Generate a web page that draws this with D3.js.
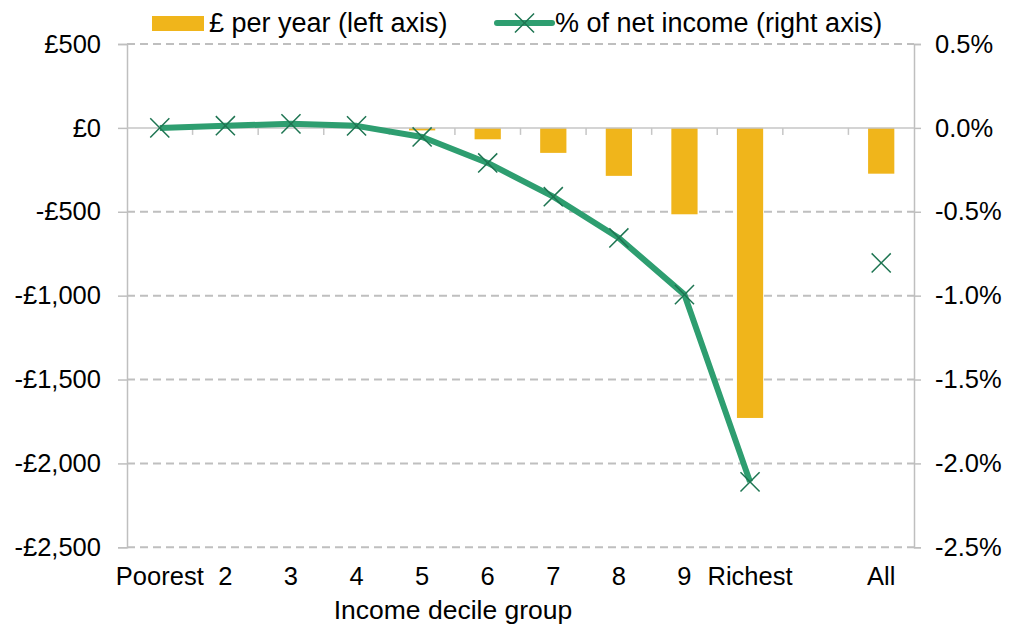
<!DOCTYPE html>
<html>
<head>
<meta charset="utf-8">
<script src="https://cdn.jsdelivr.net/npm/d3@7"></script>
<style>
  html, body { margin: 0; padding: 0; background: #ffffff; }
  svg { display: block; font-family: "Liberation Sans", Arial, sans-serif; }
</style>
</head>
<body>
<svg id="chart" width="1009" height="627"></svg>
<script>
// Income decile groups (blank slot separates the deciles from "All")
const categories = ["Poorest", "2", "3", "4", "5", "6", "7", "8", "9", "Richest", "", "All"];
// Change in £ per year (left axis)
const poundsPerYear = [0, 0, 0, 0, -15, -68, -149, -286, -515, -1729, null, -273];
// Change as % of net income (right axis)
const pctNetIncome = [0.0, 0.013, 0.024, 0.012, -0.054, -0.209, -0.41, -0.656, -0.994, -2.11, null, -0.805];
// Axis ticks
const leftTicks = [500, 0, -500, -1000, -1500, -2000, -2500];
const rightTicks = [0.5, 0.0, -0.5, -1.0, -1.5, -2.0, -2.5];
const legendLabels = ["£ per year (left axis)", "% of net income (right axis)"];
const xTitle = "Income decile group";

const BAR = "#F0B51B", LINE = "#2E9E70", MARK = "#1E7552", GRID = "#BFBFBF", TEXT = "#000000";
const FS = 25.5;
const FS_LEGEND = 27;

const svg = d3.select("#chart");
const plot = { left: 127, right: 914, top: 44, bottom: 547.3 };

const x = d3.scaleBand().domain(categories).range([plot.left, plot.right]).padding(0);
const yL = d3.scaleLinear().domain([-2500, 500]).range([plot.bottom, plot.top]);
const yR = d3.scaleLinear().domain([-2.5, 0.5]).range([plot.bottom, plot.top]);

const fmtPounds = v => (v < 0 ? "-£" : "£") + d3.format(",")(Math.abs(v));
const fmtPct = v => (v < 0 ? "-" : "") + d3.format(".1f")(Math.abs(v)) + "%";

// Dashed horizontal gridlines (zero line drawn solid below)
svg.append("g")
  .selectAll("line")
  .data(leftTicks.filter(v => v !== 0))
  .join("line")
  .attr("x1", plot.left).attr("x2", plot.right)
  .attr("y1", d => yL(d)).attr("y2", d => yL(d))
  .attr("stroke", GRID).attr("stroke-width", 2)
  .attr("stroke-dasharray", "8,5");

// Left axis
const gL = svg.append("g")
  .attr("transform", `translate(${plot.left},0)`)
  .call(d3.axisLeft(yL).tickValues(leftTicks).tickFormat(fmtPounds).tickSize(9).tickPadding(17));
// Right axis
const gR = svg.append("g")
  .attr("transform", `translate(${plot.right},0)`)
  .call(d3.axisRight(yR).tickValues(rightTicks).tickFormat(fmtPct).tickSize(7).tickPadding(14));

[gL, gR].forEach(g => {
  g.select(".domain").attr("stroke", GRID).attr("stroke-width", 1.5);
  g.selectAll(".tick line").attr("stroke", GRID).attr("stroke-width", 1.5);
  g.selectAll(".tick text").attr("fill", TEXT).style("font-size", FS + "px")
    .style("font-family", '"Liberation Sans", Arial, sans-serif');
});

// Bars
const bw = x.bandwidth();
svg.append("g")
  .selectAll("rect")
  .data(categories.map((c, i) => ({ c, v: poundsPerYear[i] })).filter(d => d.v !== null && d.v !== 0))
  .join("rect")
  .attr("x", d => x(d.c) + bw * 0.3)
  .attr("width", bw * 0.4)
  .attr("y", d => Math.min(yL(0), yL(d.v)))
  .attr("height", d => Math.abs(yL(d.v) - yL(0)))
  .attr("fill", BAR);

// Zero line (category axis) with tick marks between groups
const gX = svg.append("g").attr("transform", `translate(0,${yL(0)})`);
gX.append("line")
  .attr("x1", plot.left).attr("x2", plot.right)
  .attr("stroke", "#C6C6C6").attr("stroke-width", 1.5);
gX.selectAll("line.tk")
  .data(categories.slice(1))
  .join("line")
  .attr("class", "tk")
  .attr("x1", d => x(d)).attr("x2", d => x(d))
  .attr("y1", 0).attr("y2", 7)
  .attr("stroke", "#C6C6C6").attr("stroke-width", 1.5);

// Category labels
svg.append("g")
  .selectAll("text")
  .data(categories)
  .join("text")
  .attr("x", d => x(d) + bw / 2)
  .attr("y", 585)
  .attr("text-anchor", "middle")
  .attr("fill", TEXT)
  .style("font-size", FS + "px")
  .text(d => d);

// Axis title
svg.append("text")
  .attr("x", 453).attr("y", 619)
  .attr("text-anchor", "middle")
  .attr("fill", TEXT)
  .style("font-size", "26.5px")
  .text(xTitle);

// Percentage line across deciles
const pts = categories.map((c, i) => ({ c, v: pctNetIncome[i] })).filter(d => d.v !== null);
const decilePts = pts.filter(d => d.c !== "All");
svg.append("path")
  .datum(decilePts)
  .attr("fill", "none")
  .attr("stroke", LINE)
  .attr("stroke-width", 6)
  .attr("stroke-linejoin", "round")
  .attr("d", d3.line().x(d => x(d.c) + bw / 2).y(d => yR(d.v)));

// X markers
const cross = d3.symbol().type(d3.symbolX).size(240);
svg.append("g")
  .selectAll("path")
  .data(pts)
  .join("path")
  .attr("transform", d => `translate(${x(d.c) + bw / 2},${yR(d.v)})`)
  .attr("d", cross)
  .attr("fill", "none")
  .attr("stroke", MARK)
  .attr("stroke-width", 1.5);

// Legend
const lg = svg.append("g");
lg.append("rect").attr("x", 152).attr("y", 16).attr("width", 52).attr("height", 15).attr("fill", BAR);
lg.append("text").attr("x", 209).attr("y", 32).attr("fill", TEXT).style("font-size", FS_LEGEND + "px").text(legendLabels[0]);
lg.append("line").attr("x1", 497).attr("x2", 552).attr("y1", 23).attr("y2", 23)
  .attr("stroke", LINE).attr("stroke-width", 6).attr("stroke-linecap", "round");
lg.append("path").attr("transform", "translate(524.5,23)").attr("d", cross)
  .attr("fill", "none").attr("stroke", MARK).attr("stroke-width", 1.5);
lg.append("text").attr("x", 555).attr("y", 32).attr("fill", TEXT).style("font-size", FS_LEGEND + "px").text(legendLabels[1]);
</script>
</body>
</html>
